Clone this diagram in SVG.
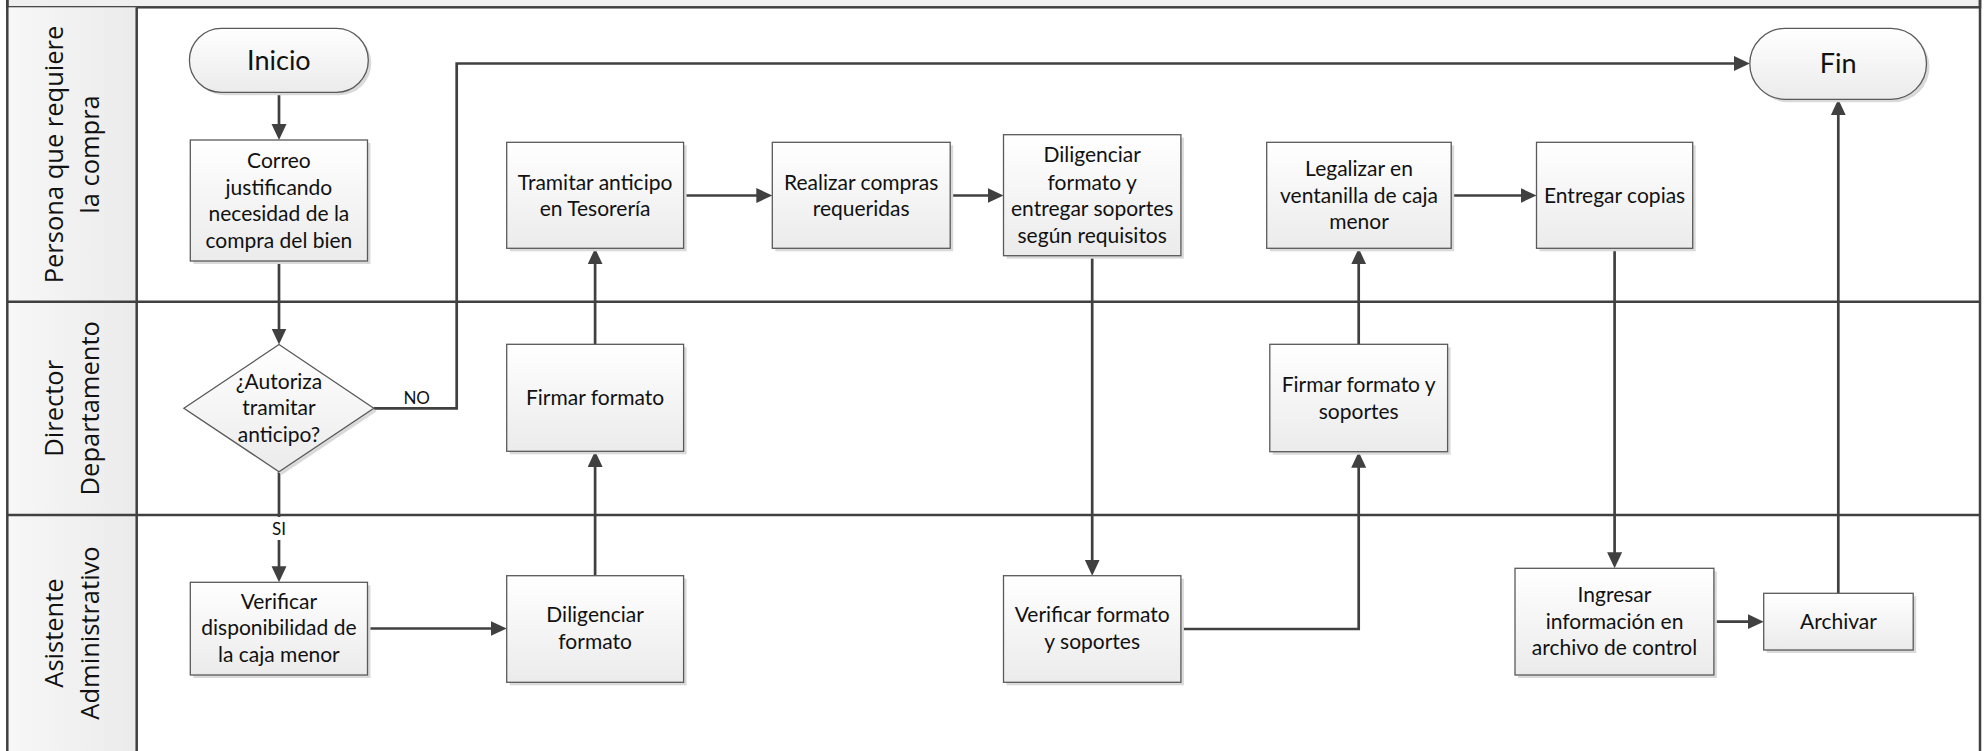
<svg xmlns="http://www.w3.org/2000/svg" width="1986" height="751" viewBox="0 0 1986 751">
<defs>
<linearGradient id="gBox" x1="0" y1="0" x2="0" y2="1">
<stop offset="0" stop-color="#ffffff"/>
<stop offset="1" stop-color="#ebebeb"/>
</linearGradient>
<linearGradient id="gLane" x1="0" y1="0" x2="1" y2="0">
<stop offset="0" stop-color="#f7f7f7"/>
<stop offset="1" stop-color="#ebebeb"/>
</linearGradient>
<marker id="ah" markerUnits="userSpaceOnUse" markerWidth="17" markerHeight="16" refX="12" refY="7.5" orient="auto">
<path d="M0,0 L16,7.5 L0,15 z" fill="#404040"/>
</marker>
</defs>
<style>
.shp{fill:url(#gBox);stroke:#5a5a5a;stroke-width:1.3}
.sh{fill:#dadada}
.t{font-family:"Lato","Liberation Sans",sans-serif;font-size:21px;fill:#111;text-anchor:middle}
.tt{font-family:"Lato","Liberation Sans",sans-serif;font-size:27px;fill:#111;text-anchor:middle}
.lbl{font-family:"Lato","Liberation Sans",sans-serif;font-size:17px;fill:#111;text-anchor:middle}
.lane{font-family:"Open Sans","Noto Sans",sans-serif;font-size:25.5px;fill:#111;text-anchor:middle}
.ln{stroke:#404040;stroke-width:2.5;fill:none}
.c{stroke:#404040;stroke-width:2.7;fill:none}
.ca{stroke:#404040;stroke-width:2.7;fill:none;marker-end:url(#ah)}
</style>
<rect width="1986" height="751" fill="#ffffff"/>
<g id="pool">
<rect x="7.3" y="-5" width="1972.7" height="12.3" fill="#efefef" stroke="#404040" stroke-width="2.5"/>
<rect x="7.3" y="7.3" width="129.4" height="750" fill="url(#gLane)"/>
<line class="ln" x1="7.3" y1="-2" x2="7.3" y2="753"/>
<line class="ln" x1="1980" y1="-2" x2="1980" y2="753"/>
<line class="ln" x1="136.7" y1="7.3" x2="136.7" y2="753"/>
<line class="ln" x1="7.3" y1="301.7" x2="1980" y2="301.7"/>
<line class="ln" x1="7.3" y1="515" x2="1980" y2="515"/>
</g>
<g id="lane1">
<text class="lane" transform="translate(62.5,154.5) rotate(-90)">Persona que requiere</text>
<text class="lane" transform="translate(98.5,154.5) rotate(-90)">la compra</text>
</g>
<g id="lane2">
<text class="lane" transform="translate(62.5,408.3) rotate(-90)">Director</text>
<text class="lane" transform="translate(98.5,408.3) rotate(-90)">Departamento</text>
</g>
<g id="lane3">
<text class="lane" transform="translate(62.5,633) rotate(-90)">Asistente</text>
<text class="lane" transform="translate(98.5,633) rotate(-90)">Administrativo</text>
</g>
<g id="connectors">
<path class="ca" d="M279,92.3 V136"/>
<path class="ca" d="M279,261 V340.5"/>
<path class="ca" d="M373.8,408.3 H456.7 V63.5 H1745.8"/>
<path class="c" d="M279,471.7 V517"/>
<path class="ca" d="M279,540 V578.3"/>
<path class="ca" d="M367.5,628.5 H502.7"/>
<path class="ca" d="M595.1,575.7 V455"/>
<path class="ca" d="M595.1,344.3 V252.3"/>
<path class="ca" d="M683.6,195.5 H768.3"/>
<path class="ca" d="M950.2,195.5 H999.5"/>
<path class="ca" d="M1092.2,255.7 V571.7"/>
<path class="ca" d="M1180.9,629 H1358.7 V455.7"/>
<path class="ca" d="M1358.7,344.3 V252.3"/>
<path class="ca" d="M1451.2,195.5 H1532.5"/>
<path class="ca" d="M1614.6,248.3 V564.3"/>
<path class="ca" d="M1713.9,621.7 H1759.7"/>
<path class="ca" d="M1838.3,593.3 V103.3"/>
<text class="lbl" x="416.7" y="404.4">NO</text>
<text class="lbl" x="279" y="535.4">SI</text>
</g>
<g id="inicio">
<rect class="sh" x="192.4" y="31.3" width="178.9" height="64" rx="32"/>
<rect class="shp" x="189.4" y="28.3" width="178.9" height="64" rx="32"/>
<text class="tt" x="278.9" y="70">Inicio</text>
</g>
<g id="correo">
<rect class="sh" x="193.3" y="143" width="177.2" height="121"/>
<rect class="shp" x="190.3" y="140" width="177.2" height="121"/>
<text class="t"><tspan x="278.9" y="168">Correo</tspan><tspan x="278.9" y="194.7">justificando</tspan><tspan x="278.9" y="221.4">necesidad de la</tspan><tspan x="278.9" y="248.1">compra del bien</tspan></text>
</g>
<g id="tramitar">
<rect class="sh" x="509.7" y="145.3" width="176.9" height="106"/>
<rect class="shp" x="506.7" y="142.3" width="176.9" height="106"/>
<text class="t"><tspan x="595.1" y="189.5">Tramitar anticipo</tspan><tspan x="595.1" y="216.2">en Tesorería</tspan></text>
</g>
<g id="realizar">
<rect class="sh" x="775.3" y="145.3" width="177.9" height="106"/>
<rect class="shp" x="772.3" y="142.3" width="177.9" height="106"/>
<text class="t"><tspan x="861.2" y="189.5">Realizar compras</tspan><tspan x="861.2" y="216.2">requeridas</tspan></text>
</g>
<g id="diligenciar_entregar">
<rect class="sh" x="1006.5" y="137.7" width="177.4" height="121"/>
<rect class="shp" x="1003.5" y="134.7" width="177.4" height="121"/>
<text class="t"><tspan x="1092.2" y="162">Diligenciar</tspan><tspan x="1092.2" y="189.7">formato y</tspan><tspan x="1092.2" y="216.3">entregar soportes</tspan><tspan x="1092.2" y="243">según requisitos</tspan></text>
</g>
<g id="legalizar">
<rect class="sh" x="1269.7" y="145.3" width="184.5" height="106"/>
<rect class="shp" x="1266.7" y="142.3" width="184.5" height="106"/>
<text class="t"><tspan x="1359" y="176">Legalizar en</tspan><tspan x="1359" y="202.7">ventanilla de caja</tspan><tspan x="1359" y="229.3">menor</tspan></text>
</g>
<g id="entregar">
<rect class="sh" x="1539.5" y="145.3" width="156.2" height="106"/>
<rect class="shp" x="1536.5" y="142.3" width="156.2" height="106"/>
<text class="t" x="1614.6" y="202.7">Entregar copias</text>
</g>
<g id="fin">
<rect class="sh" x="1752.8" y="31.3" width="176.7" height="71" rx="35.5"/>
<rect class="shp" x="1749.8" y="28.3" width="176.7" height="71" rx="35.5"/>
<text class="tt" x="1838.1" y="72.7">Fin</text>
</g>
<g id="autoriza">
<path class="sh" d="M282,347.5 L376.8,411.3 L282,474.7 L186.9,411.3 Z"/>
<path class="shp" d="M279,344.5 L373.8,408.3 L279,471.7 L183.9,408.3 Z"/>
<text class="t"><tspan x="279" y="388.7">¿Autoriza</tspan><tspan x="279" y="415.3">tramitar</tspan><tspan x="279" y="442">anticipo?</tspan></text>
</g>
<g id="firmar_formato">
<rect class="sh" x="509.7" y="347.3" width="176.9" height="107"/>
<rect class="shp" x="506.7" y="344.3" width="176.9" height="107"/>
<text class="t" x="595.1" y="404.7">Firmar formato</text>
</g>
<g id="firmar_soportes">
<rect class="sh" x="1272.8" y="347.3" width="177.8" height="107.4"/>
<rect class="shp" x="1269.8" y="344.3" width="177.8" height="107.4"/>
<text class="t"><tspan x="1358.7" y="392">Firmar formato y</tspan><tspan x="1358.7" y="418.7">soportes</tspan></text>
</g>
<g id="verificar_disponibilidad">
<rect class="sh" x="193.3" y="585.3" width="177.2" height="92.7"/>
<rect class="shp" x="190.3" y="582.3" width="177.2" height="92.7"/>
<text class="t"><tspan x="278.9" y="608.5">Verificar</tspan><tspan x="278.9" y="635.2">disponibilidad de</tspan><tspan x="278.9" y="661.9">la caja menor</tspan></text>
</g>
<g id="diligenciar_formato">
<rect class="sh" x="509.7" y="578.7" width="176.9" height="106.6"/>
<rect class="shp" x="506.7" y="575.7" width="176.9" height="106.6"/>
<text class="t"><tspan x="595.1" y="622">Diligenciar</tspan><tspan x="595.1" y="648.7">formato</tspan></text>
</g>
<g id="verificar_formato">
<rect class="sh" x="1006.5" y="578.7" width="177.4" height="106.6"/>
<rect class="shp" x="1003.5" y="575.7" width="177.4" height="106.6"/>
<text class="t"><tspan x="1092.2" y="622">Verificar formato</tspan><tspan x="1092.2" y="648.7">y soportes</tspan></text>
</g>
<g id="ingresar">
<rect class="sh" x="1518" y="571.3" width="198.9" height="106.7"/>
<rect class="shp" x="1515" y="568.3" width="198.9" height="106.7"/>
<text class="t"><tspan x="1614.5" y="602">Ingresar</tspan><tspan x="1614.5" y="628.7">información en</tspan><tspan x="1614.5" y="655.4">archivo de control</tspan></text>
</g>
<g id="archivar">
<rect class="sh" x="1766.7" y="596.3" width="149.5" height="56.7"/>
<rect class="shp" x="1763.7" y="593.3" width="149.5" height="56.7"/>
<text class="t" x="1838.5" y="628.7">Archivar</text>
</g>
</svg>
